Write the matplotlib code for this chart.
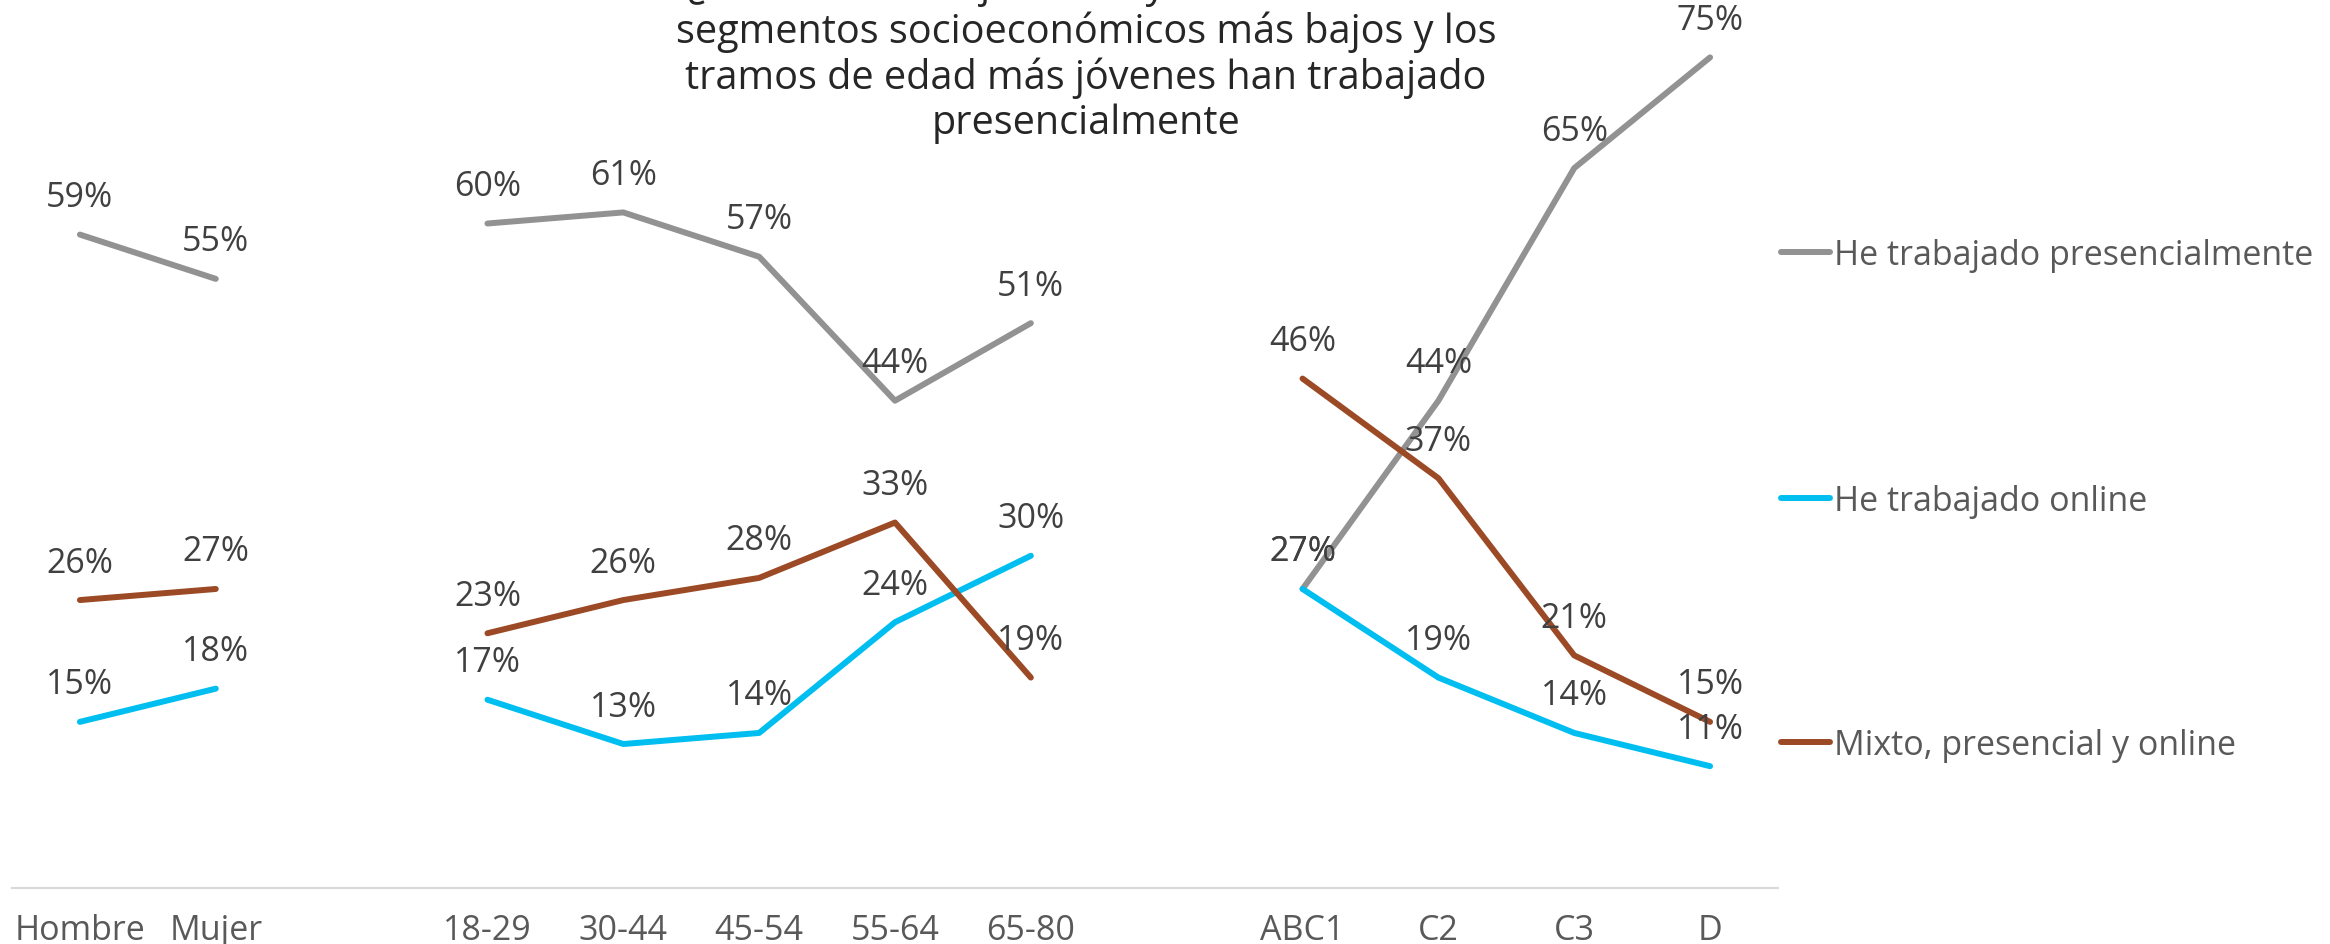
import numpy as np
import matplotlib.pyplot as plt
from matplotlib.lines import Line2D

plt.rcParams['font.family'] = ['Open Sans', 'DejaVu Sans']

# categories (blank entries separate the groups)
categorias = ['Hombre', 'Mujer', '', '18-29', '30-44', '45-54', '55-64', '65-80',
              '', 'ABC1', 'C2', 'C3', 'D']
presencial = [59, 55, None, 60, 61, 57, 44, 51, None, 27, 44, 65, 75]
online = [15, 18, None, 17, 13, 14, 24, 30, None, 27, 19, 14, 11]
mixto = [26, 27, None, 23, 26, 28, 33, 19, None, 46, 37, 21, 15]

series = [
    ('He trabajado presencialmente', presencial, '#929292'),
    ('He trabajado online', online, '#00BFF0'),
    ('Mixto, presencial y online', mixto, '#9C4A26'),
]

fig = plt.figure(figsize=(23.3, 9.45), dpi=100)
ax = fig.add_axes([12 / 2330, 1 - 889 / 945, (1778 - 12) / 2330, 886 / 945])

x = np.arange(len(categorias))
handles = []
for nombre, valores, color in series:
    y = np.array([np.nan if v is None else v for v in valores], dtype=float)
    ax.plot(x, y, color=color, lw=4.3, solid_capstyle='round')
    for xi, yi in zip(x, y):
        if not np.isnan(yi):
            ax.annotate(f'{int(yi)}%', (xi, yi), xytext=(0, 27), textcoords='offset points',
                        ha='center', va='center', fontsize=24.5, color='#404040')
    handles.append(Line2D([0], [0], color=color, lw=4.3, solid_capstyle='round', label=nombre))

ax.set_xlim(-0.5, 12.5)
ax.set_ylim(0, 80)
ax.set_xticks(x)
ax.set_xticklabels(categorias, fontsize=24.5, color='#595959')
ax.tick_params(axis='x', length=0, pad=18)
ax.set_yticks([])
for s in ['top', 'right', 'left']:
    ax.spines[s].set_visible(False)
ax.spines['bottom'].set_color('#D9D9D9')
ax.spines['bottom'].set_linewidth(1.5)
ax.patch.set_alpha(0)

# legend, spread out on the right
for h, ypix in zip(handles, [256, 502, 746]):
    fig.legend(handles=[h], loc='center left', bbox_to_anchor=(1781 / 2330, 1 - ypix / 945),
               frameon=False, fontsize=24.5, handlelength=1.45, handletextpad=0.12,
               borderpad=0, borderaxespad=0, labelcolor='#595959')

# the first title line runs off the top, as in the original
titulo = ('¿Cómo ha trabajado? Mayoritariamente los\n'
          'segmentos socioeconómicos más bajos y los\n'
          'tramos de edad más jóvenes han trabajado\n'
          'presencialmente')
fig.text(0.466, 1 - 55 / 945, titulo, ha='center', va='center', fontsize=28.5,
         color='#262626', linespacing=1.14)

fig.savefig('out.png', dpi=100)
